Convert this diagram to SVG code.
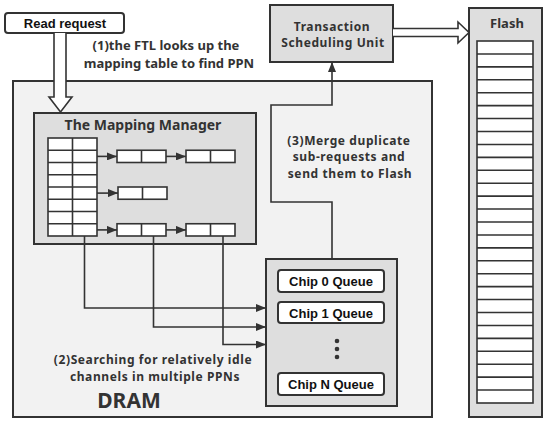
<svg xmlns="http://www.w3.org/2000/svg" width="550" height="426" viewBox="0 0 550 426">
<defs>
<marker id="ah" markerWidth="10" markerHeight="8" refX="10" refY="4" orient="auto" markerUnits="userSpaceOnUse">
<path d="M0,0 L10,4 L0,8 Z" fill="#333"/>
</marker>
<style>
.box{stroke:#333;stroke-width:2;}
.cell{fill:#fff;stroke:#333;stroke-width:1.6;}
.ln{fill:none;stroke:#333;stroke-width:1.6;}
.t{font-family:"Noto Sans","Open Sans",sans-serif;font-weight:bold;fill:#333;text-anchor:middle;}
.s{font-size:12px;letter-spacing:0.6px;}
.a{font-family:"Liberation Sans",Arial,sans-serif;font-weight:bold;fill:#111;text-anchor:middle;font-size:13px;}
</style>
</defs>
<rect width="550" height="426" fill="#fff"/>

<g id="dram">
<rect x="13" y="81" width="419" height="336" fill="#f2f2f2" class="box"/>
<text class="t" x="129" y="408" font-size="21">DRAM</text>
</g>

<g id="read-request">
<rect x="5" y="13" width="119" height="20" rx="3" fill="#fff" class="box"/>
<text class="a" x="65" y="28">Read request</text>
</g>

<g id="tsu">
<rect x="270" y="5" width="123" height="57" fill="#dedede" class="box"/>
<text class="t s" x="332" y="30.5">Transaction</text>
<text class="t s" x="333" y="47">Scheduling Unit</text>
</g>

<g id="flash">
<rect x="469" y="8" width="73" height="409" fill="#dedede" class="box"/>
<text class="t" x="507" y="28" font-size="13">Flash</text>
<rect x="477" y="41" width="56" height="362" class="cell"/>
<path class="ln" d="M477 53.93H533M477 66.86H533M477 79.79H533M477 92.71H533M477 105.64H533M477 118.57H533M477 131.5H533M477 144.43H533M477 157.36H533M477 170.29H533M477 183.21H533M477 196.14H533M477 209.07H533M477 222H533M477 234.93H533M477 247.86H533M477 260.79H533M477 273.71H533M477 286.64H533M477 299.57H533M477 312.5H533M477 325.43H533M477 338.36H533M477 351.29H533M477 364.21H533M477 377.14H533M477 390.07H533"/>
</g>

<g id="mapping-manager">
<rect x="34" y="113" width="222" height="131" fill="#dedede" class="box"/>
<text class="t" x="143" y="130" font-size="14">The Mapping Manager</text>
<rect x="48" y="138" width="49" height="98" class="cell"/>
<path class="ln" d="M72.5 138V236M48 150.25H97M48 162.5H97M48 174.75H97M48 187H97M48 199.25H97M48 211.5H97M48 223.75H97"/>
<rect x="117" y="150.25" width="49" height="12.25" class="cell"/>
<path class="ln" d="M141.5 150.25V162.5"/>
<rect x="186" y="150.25" width="49" height="12.25" class="cell"/>
<path class="ln" d="M210.5 150.25V162.5"/>
<rect x="118" y="187" width="49" height="12.25" class="cell"/>
<path class="ln" d="M142.5 187V199.25"/>
<rect x="117" y="223.75" width="49" height="12.25" class="cell"/>
<path class="ln" d="M141.5 223.75V236"/>
<rect x="186" y="223.75" width="49" height="12.25" class="cell"/>
<path class="ln" d="M210.5 223.75V236"/>
</g>

<g id="chip-queues">
<rect x="266" y="259" width="131" height="147" fill="#dedede" class="box"/>
<rect x="278" y="270" width="106" height="22" rx="3" fill="#fff" class="box"/>
<text class="a" x="331" y="286">Chip 0 Queue</text>
<rect x="278" y="302" width="106" height="21" rx="3" fill="#fff" class="box"/>
<text class="a" x="331" y="317.5">Chip 1 Queue</text>
<circle cx="337" cy="341" r="2.3" fill="#333"/>
<circle cx="337" cy="349" r="2.3" fill="#333"/>
<circle cx="337" cy="357" r="2.3" fill="#333"/>
<rect x="278" y="373" width="106" height="22" rx="3" fill="#fff" class="box"/>
<text class="a" x="331" y="389">Chip N Queue</text>
</g>

<g id="labels">
<text class="t" x="166" y="49.5" font-size="13">(1)the FTL looks up the</text>
<text class="t" x="169" y="67.5" font-size="13">mapping table to find PPN</text>
<text class="t s" x="349" y="144.5">(3)Merge duplicate</text>
<text class="t s" x="349" y="161">sub-requests and</text>
<text class="t s" x="350" y="177.5">send them to Flash</text>
<text class="t s" x="153" y="364">(2)Searching for relatively idle</text>
<text class="t s" x="155" y="380.5">channels in multiple PPNs</text>
</g>

<g id="connectors">
<path d="M54 33V97H49L60.5 112L72 97H66V33" fill="#fff" stroke="#333" stroke-width="1.6"/>
<path d="M393 28.5H458V22L469 32.5L458 43V36.5H393" fill="#fff" stroke="#333" stroke-width="1.6"/>
<path class="ln" marker-end="url(#ah)" d="M97 156.4H117"/>
<path class="ln" marker-end="url(#ah)" d="M166 156.4H186"/>
<path class="ln" marker-end="url(#ah)" d="M97 193.1H118"/>
<path class="ln" marker-end="url(#ah)" d="M97 229.9H117"/>
<path class="ln" marker-end="url(#ah)" d="M166 229.9H186"/>
<path class="ln" marker-end="url(#ah)" d="M84.5 236V308H266"/>
<path class="ln" marker-end="url(#ah)" d="M153.5 236V327H266"/>
<path class="ln" marker-end="url(#ah)" d="M223 236V344.5H266"/>
<path class="ln" marker-end="url(#ah)" d="M332 259V202H271V105H332V62"/>
</g>
</svg>
